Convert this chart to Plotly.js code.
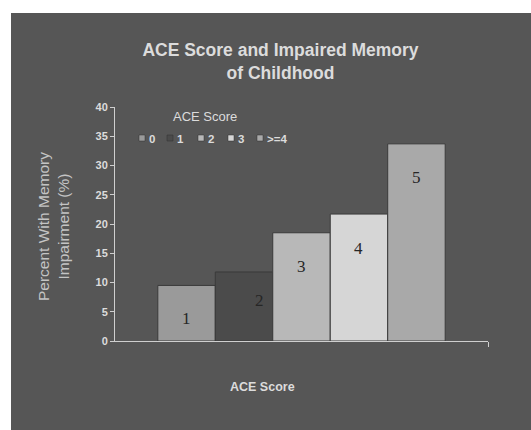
<!DOCTYPE html>
<html>
<head>
<meta charset="utf-8">
<script src="https://cdn.plot.ly/plotly-3.0.1.min.js"></script>
<style>
  html, body { margin: 0; padding: 0; background: #ffffff; width: 531px; height: 430px; overflow: hidden; }
  #chart { position: absolute; left: 11px; top: 13px; width: 520px; height: 417px; }
</style>
</head>
<body>
<div id="chart"></div>
<script>
// ---- data ----
var scoreLabels = ["0", "1", "2", "3", ">=4"];
var barNumbers = ["1", "2", "3", "4", "5"];
var percentImpaired = [9.5, 11.8, 18.5, 21.7, 33.7];
var yTicks = [0, 5, 10, 15, 20, 25, 30, 35, 40];

// ---- styles ----
var barColors = ["#9a9a9a", "#4b4b4b", "#b8b8b8", "#d6d6d6", "#a9a9a9"];
var bg = "#565656";
var txt = "#dcdcdc";
var W = 520, H = 417;
var M = {l: 104, r: 43, t: 94, b: 89};
var PW = W - M.l - M.r, PH = H - M.t - M.b;
function px2x(px) { return (px - 11 - M.l) / PW; }   // page px -> paper x
function py2y(py) { return (H - M.b - (py - 13)) / PH; } // page px -> paper y

var traces = percentImpaired.map(function (v, i) {
  return {
    type: "bar",
    name: scoreLabels[i],
    x: [i + 1],
    y: [v],
    width: 1,
    marker: {color: barColors[i], line: {color: "#3a3a3a", width: 1}},
    hoverinfo: "name+y",
    showlegend: false
  };
});

// number labels inside bars (positioned relative to each bar's height)
var labelFrac = [0.41, 0.59, 0.69, 0.73, 0.83];
var labelDx = [0, 0.27, 0, 0, 0];
var annotations = percentImpaired.map(function (v, i) {
  return {
    xref: "x", yref: "y", x: i + 1 + labelDx[i], y: v * labelFrac[i],
    text: barNumbers[i], showarrow: false,
    font: {family: "Liberation Serif, Times New Roman, serif", size: 17, color: "#262626"}
  };
});

// x-axis title
annotations.push({
  xref: "paper", yref: "paper", x: px2x(262), y: py2y(387), xanchor: "center", yanchor: "middle",
  text: "<b>ACE Score</b>", showarrow: false,
  font: {family: "Liberation Sans, Arial, sans-serif", size: 12.5, color: txt}
});

// y-axis title
annotations.push({
  xref: "paper", yref: "paper", x: px2x(53), y: py2y(227), xanchor: "center", yanchor: "middle",
  text: "Percent With Memory<br>Impairment (%)", showarrow: false, textangle: -90,
  font: {family: "Liberation Sans, Arial, sans-serif", size: 15.5, color: "#c4c4c4"}
});

// manual legend
annotations.push({
  xref: "paper", yref: "paper", x: px2x(171), y: py2y(116), xanchor: "left", yanchor: "middle",
  text: "ACE Score", showarrow: false,
  font: {family: "Liberation Sans, Arial, sans-serif", size: 13, color: txt}
});
var legSq = [139, 167, 198, 228, 257];
var shapes = [];
scoreLabels.forEach(function (lab, i) {
  shapes.push({
    type: "rect", xref: "paper", yref: "paper",
    x0: px2x(legSq[i]), x1: px2x(legSq[i] + 6), y0: py2y(141), y1: py2y(135),
    fillcolor: barColors[i], line: {color: "#333", width: 0.5}
  });
  annotations.push({
    xref: "paper", yref: "paper", x: px2x(legSq[i] + 8), y: py2y(138.5), xanchor: "left", yanchor: "middle",
    text: "<b>" + lab.replace(">", "&gt;") + "</b>", showarrow: false,
    font: {family: "Liberation Sans, Arial, sans-serif", size: 11.5, color: txt}
  });
});

var layout = {
  width: W, height: H,
  margin: M,
  paper_bgcolor: bg,
  plot_bgcolor: bg,
  font: {family: "Liberation Sans, Arial, sans-serif", color: txt},
  title: {
    text: "<b>ACE Score and Impaired Memory<br>of Childhood</b>",
    xref: "container", yref: "container",
    x: 269.5 / W, xanchor: "center",
    y: 1 - 43 / H, yanchor: "top",
    font: {family: "Liberation Sans, Arial, sans-serif", size: 17.5, color: txt}
  },
  xaxis: {
    range: [-0.245, 6.245],
    showgrid: false, zeroline: false,
    showline: true, linecolor: "#cfcfcf", linewidth: 1,
    tickvals: [6.245], ticktext: [""], ticks: "outside", ticklen: 5, tickcolor: "#cfcfcf",
    fixedrange: true
  },
  yaxis: {
    range: [0, 40],
    tickvals: yTicks,
    showgrid: false, zeroline: false,
    showline: true, linecolor: "#cfcfcf", linewidth: 1,
    ticks: "outside", ticklen: 4, tickcolor: "#cfcfcf",
    tickfont: {family: "Liberation Sans, Arial, sans-serif", size: 11, color: txt, weight: "bold"},
    fixedrange: true
  },
  barmode: "overlay",
  showlegend: false,
  annotations: annotations,
  shapes: shapes
};

Plotly.newPlot("chart", traces, layout, {displayModeBar: false, staticPlot: true});
</script>
</body>
</html>
